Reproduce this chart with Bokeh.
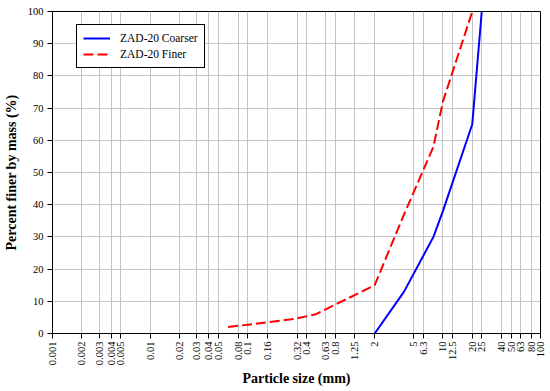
import math
from bokeh.plotting import figure
from bokeh.models import FixedTicker, Range1d
from bokeh.embed import file_html
from bokeh.resources import INLINE

# ---- data ----
x_ticks = [0.001, 0.002, 0.003, 0.004, 0.005, 0.01, 0.02, 0.03, 0.04, 0.05,
           0.08, 0.1, 0.16, 0.32, 0.4, 0.63, 0.8, 1.25, 2, 5, 6.3, 10, 12.5,
           20, 25, 40, 50, 63, 80, 100]
x_tick_labels = ["0.001", "0.002", "0.003", "0.004", "0.005", "0.01", "0.02",
                 "0.03", "0.04", "0.05", "0.08", "0.1", "0.16", "0.32", "0.4",
                 "0.63", "0.8", "1.25", "2", "5", "6.3", "10", "12.5", "20",
                 "25", "40", "50", "63", "80", "100"]
y_ticks = [0, 10, 20, 30, 40, 50, 60, 70, 80, 90, 100]

coarser_size = [2, 4, 8, 10, 20, 25]
coarser_pass = [0, 13, 30, 38, 65, 100]

finer_size = [0.063, 0.3, 0.5, 2, 4, 8, 10, 20]
finer_pass = [2, 4.5, 6, 15, 37, 58, 72, 100]

FONT = "Liberation Serif"

p = figure(width=550, height=391, x_axis_type="log",
           x_range=Range1d(0.001, 100), y_range=Range1d(0, 100),
           output_backend="svg", toolbar_location=None,
           min_border_left=52, min_border_right=10, min_border_top=11,
           min_border_bottom=58)

p.line(coarser_size, coarser_pass, line_color="#0000ff", line_width=2,
       legend_label="ZAD-20 Coarser")
p.line(finer_size, finer_pass, line_color="#ff0000", line_width=2,
       line_dash="10 4", legend_label="ZAD-20 Finer")

# x axis
xa = p.xaxis[0]
xa.ticker = FixedTicker(ticks=x_ticks, minor_ticks=[])
xa.major_label_overrides = {t: l for t, l in zip(x_ticks, x_tick_labels)}
xa.major_label_orientation = math.pi / 2
xa.axis_label = "Particle size (mm)"

# y axis
ya = p.yaxis[0]
ya.ticker = FixedTicker(ticks=y_ticks, minor_ticks=[])
ya.axis_label = "Percent finer by mass (%)"

for ax in (xa, ya):
    ax.axis_line_color = "black"
    ax.axis_line_width = 1
    ax.major_tick_line_color = "black"
    ax.major_tick_in = 0
    ax.major_tick_out = 5
    ax.minor_tick_line_color = None
    ax.major_label_text_font = FONT
    ax.major_label_text_font_size = "10.5px"
    ax.major_label_text_color = "black"
    ax.major_label_standoff = 3
    ax.axis_label_text_font = FONT
    ax.axis_label_text_font_size = "14px"
    ax.axis_label_text_font_style = "bold"
    ax.axis_label_text_color = "black"
    ax.axis_label_standoff = 3

ya.axis_label_standoff = 6
ya.major_label_standoff = 4

p.xgrid.grid_line_color = "#c4c4c4"
p.ygrid.grid_line_color = "#c4c4c4"
p.xgrid.grid_line_width = 1
p.ygrid.grid_line_width = 1

p.outline_line_color = "black"
p.outline_line_alpha = 1
p.outline_line_width = 1
p.background_fill_color = "white"
p.border_fill_color = "white"

lg = p.legend[0]
lg.location = (24, 265)
lg.border_line_color = "black"
lg.border_line_width = 1
lg.border_line_alpha = 1
lg.background_fill_alpha = 1
lg.label_text_font = FONT
lg.label_text_font_size = "11.5px"
lg.label_text_color = "black"
lg.glyph_width = 27
lg.glyph_height = 14
lg.label_height = 14
lg.label_standoff = 10
lg.spacing = 2
lg.padding = 6
lg.margin = 0

open("out.html", "w").write(file_html(p, INLINE))
